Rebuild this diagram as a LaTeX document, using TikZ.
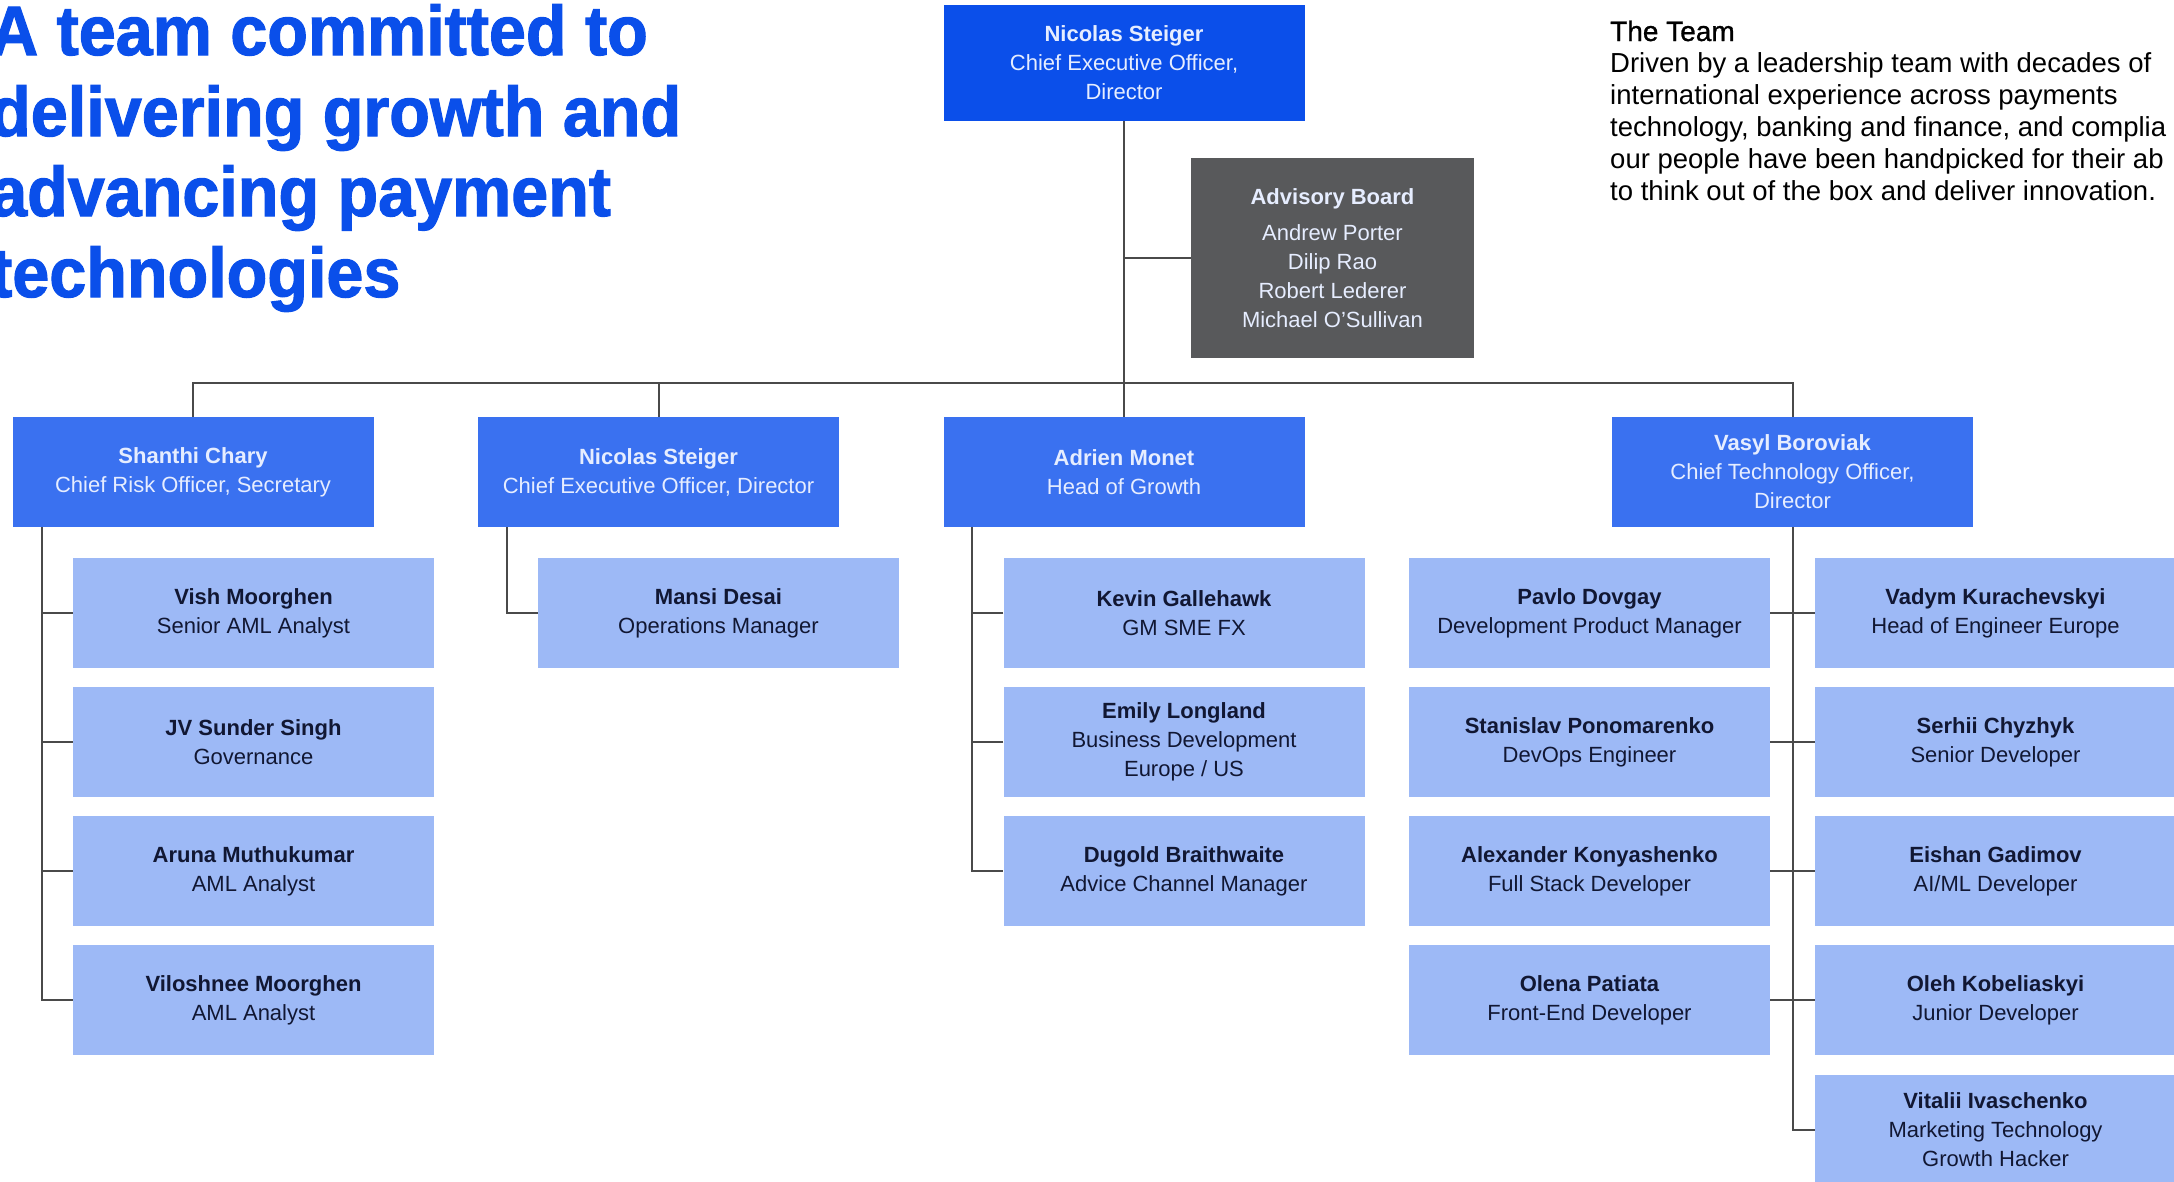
\documentclass[tikz,border=0pt]{standalone}
\usepackage{fontspec}
\setmainfont{Liberation Sans}
\newfontfamily\titlefont[FakeStretch=0.95,FakeBold=1.6]{Liberation Sans}
\newfontfamily\leadfont[FakeBold=1]{Liberation Sans}
\usetikzlibrary{calc}

\definecolor{titleblue}{HTML}{0A4FEA}
\definecolor{ceoblue}{HTML}{0B4FEA}
\definecolor{headblue}{HTML}{3A71F0}
\definecolor{memberblue}{HTML}{9DB9F6}
\definecolor{boardgrey}{HTML}{58595B}
\definecolor{headtext}{HTML}{E6EDFF}
\definecolor{membertext}{HTML}{111733}
\definecolor{linegrey}{HTML}{4A4A4A}

\newcommand\who[1]{\textbf{#1}}

\tikzset{
  orgbox/.style={minimum width=361pt, minimum height=110pt, inner sep=0pt,
    align=center, font=\fontsize{22}{29}\selectfont},
  ceobox/.style={orgbox, minimum height=116pt, fill=ceoblue, text=headtext},
  headbox/.style={orgbox, fill=headblue, text=headtext},
  memberbox/.style={orgbox, fill=memberblue, text=membertext},
  boardbox/.style={orgbox, minimum width=283pt, minimum height=200pt,
    fill=boardgrey, text=headtext},
  link/.style={draw=linegrey, line width=2pt},
  titleline/.style={anchor=base west, inner sep=0pt, text=titleblue,
    font=\fontsize{70}{80}\titlefont\bfseries},
  blurb/.style={anchor=base west, inner sep=0pt, text=black,
    font=\fontsize{27.5}{32}\selectfont},
}

\begin{document}
\begin{tikzpicture}[x=1pt,y=-1pt]
\useasboundingbox (0,0) rectangle (2174,1181);
\fill[white] (0,0) rectangle (2174,1181);
\clip (0,0) rectangle (2174,1181);

% headline
\node[titleline] (t1) at (-10,55)  {A team committed to};
\node[titleline] (t2) at (-10,136) {delivering growth and};
\node[titleline] (t3) at (-10,216) {advancing payment};
\node[titleline] (t4) at (-10,297) {technologies};

% team blurb
\node[blurb, font=\fontsize{28}{32}\leadfont] (b0) at (1610,41) {The Team};
\node[blurb] (b1) at (1610,72)  {Driven by a leadership team with decades of};
\node[blurb] (b2) at (1610,104) {international experience across payments};
\node[blurb] (b3) at (1610,136) {technology, banking and finance, and complia};
\node[blurb] (b4) at (1610,168) {our people have been handpicked for their ab};
\node[blurb] (b5) at (1610,200) {to think out of the box and deliver innovation.};

% top level
\node[ceobox] (ceo) at (1124,63) {\who{Nicolas Steiger}\\Chief Executive Officer,\\Director};
\node[boardbox] (board) at (1332.5,258) {\who{Advisory Board}\\[7pt]Andrew Porter\\Dilip Rao\\Robert Lederer\\Michael O’Sullivan};

% second level
\node[headbox] (cro) at (193,472) {\who{Shanthi Chary}\\Chief Risk Officer, Secretary};
\node[headbox] (ceo2) at (658.5,472) {\who{Nicolas Steiger}\\Chief Executive Officer, Director};
\node[headbox] (growth) at (1124,472) {\who{Adrien Monet}\\Head of Growth};
\node[headbox] (cto) at (1792.5,472) {\who{Vasyl Boroviak}\\Chief Technology Officer,\\Director};

% risk team
\node[memberbox] (vish) at (253.5,613) {\who{Vish Moorghen}\\Senior AML Analyst};
\node[memberbox] (jv) at (253.5,742) {\who{JV Sunder Singh}\\Governance};
\node[memberbox] (aruna) at (253.5,871) {\who{Aruna Muthukumar}\\AML Analyst};
\node[memberbox] (vilo) at (253.5,1000) {\who{Viloshnee Moorghen}\\AML Analyst};

% operations
\node[memberbox] (mansi) at (718.5,613) {\who{Mansi Desai}\\Operations Manager};

% growth team
\node[memberbox] (kevin) at (1184,613) {\who{Kevin Gallehawk}\\GM SME FX};
\node[memberbox] (emily) at (1184,742) {\who{Emily Longland}\\Business Development\\Europe / US};
\node[memberbox] (dugold) at (1184,871) {\who{Dugold Braithwaite}\\Advice Channel Manager};

% technology team, left column
\node[memberbox] (pavlo) at (1589.5,613) {\who{Pavlo Dovgay}\\Development Product Manager};
\node[memberbox] (stas) at (1589.5,742) {\who{Stanislav Ponomarenko}\\DevOps Engineer};
\node[memberbox] (alex) at (1589.5,871) {\who{Alexander Konyashenko}\\Full Stack Developer};
\node[memberbox] (olena) at (1589.5,1000) {\who{Olena Patiata}\\Front-End Developer};

% technology team, right column
\node[memberbox] (vadym) at (1995.5,613) {\who{Vadym Kurachevskyi}\\Head of Engineer Europe};
\node[memberbox] (serhii) at (1995.5,742) {\who{Serhii Chyzhyk}\\Senior Developer};
\node[memberbox] (eishan) at (1995.5,871) {\who{Eishan Gadimov}\\AI/ML Developer};
\node[memberbox] (oleh) at (1995.5,1000) {\who{Oleh Kobeliaskyi}\\Junior Developer};
\node[memberbox] (vitalii) at (1995.5,1130) {\who{Vitalii Ivaschenko}\\Marketing Technology\\Growth Hacker};

% connectors
\coordinate (busL) at (cro.north |- 0,383);
\coordinate (busR) at (cto.north |- 0,383);
\draw[link] (ceo.south) -- (growth.north);
\draw[link] (ceo.south |- board.west) -- (board.west);
\draw[link] (cro.north) -- (busL) -- (busR) -- (cto.north);
\draw[link] (ceo2.north) -- (ceo2.north |- busL);

% risk spine
\coordinate (sp1) at ($(cro.south west)+(30,0)$);
\draw[link] (sp1) |- (vilo.west);
\foreach \m in {vish,jv,aruna} \draw[link] (\m.west) -- (\m.west -| sp1);

% operations spine
\coordinate (sp2) at ($(ceo2.south west)+(29,0)$);
\draw[link] (sp2) |- (mansi.west);

% growth spine
\coordinate (sp3) at ($(growth.south west)+(29,0)$);
\draw[link] (sp3) |- (dugold.west);
\foreach \m in {kevin,emily} \draw[link] (\m.west) -- (\m.west -| sp3);

% technology spine
\draw[link] (cto.south) |- (vitalii.west);
\draw[link] (pavlo.east) -- (vadym.west);
\draw[link] (stas.east) -- (serhii.west);
\draw[link] (alex.east) -- (eishan.west);
\draw[link] (olena.east) -- (oleh.west);
\end{tikzpicture}
\end{document}
